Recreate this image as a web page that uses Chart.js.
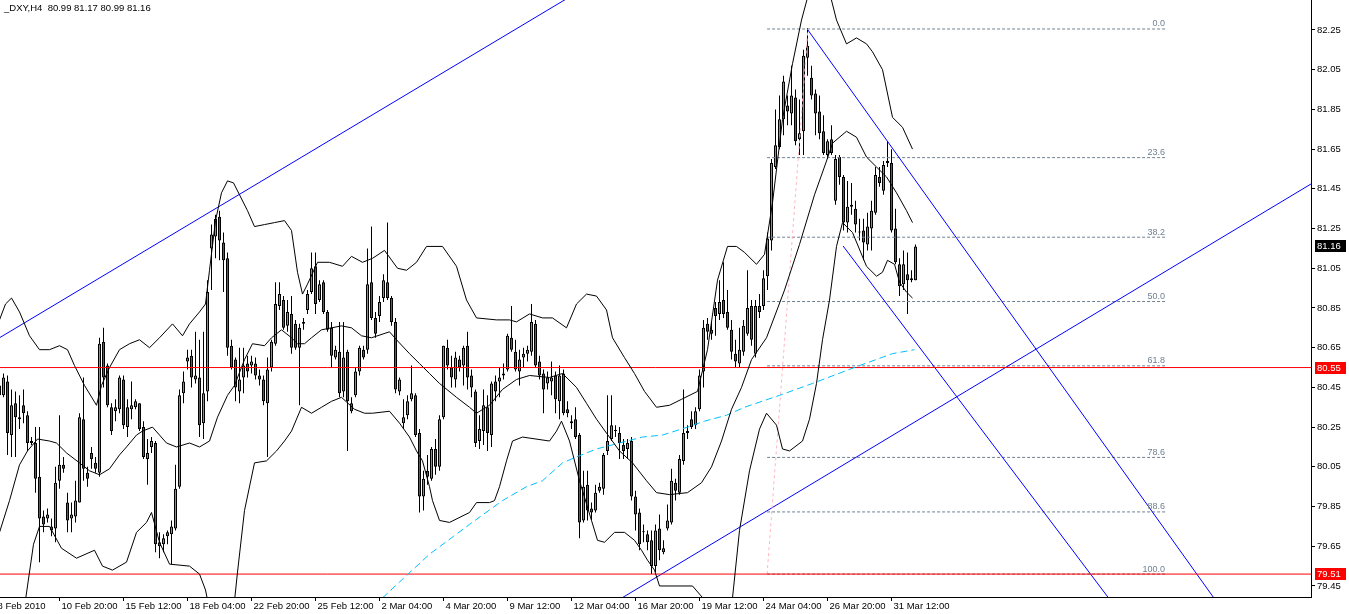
<!DOCTYPE html>
<html><head><meta charset="utf-8">
<style>html,body{margin:0;padding:0;background:#fff;overflow:hidden}canvas{display:block}</style>
<script src="https://cdn.jsdelivr.net/npm/chart.js@4.4.1/dist/chart.umd.min.js"></script>
</head><body>
<canvas id="c" width="1349" height="614"></canvas>
<script>
const symbolTitle = "_DXY,H4  80.99 81.17 80.99 81.16";

const opens = [80.41,80.41,80.48,80.21,80.37,80.29,80.36,80.31,80.18,80.17,
80.00,79.80,79.79,79.75,79.74,79.98,80.06,79.87,79.79,79.80,
79.87,80.29,80.02,80.12,80.07,80.02,80.68,80.56,80.35,80.33,
80.34,80.49,80.25,80.34,80.35,80.37,80.25,80.09,80.15,80.17,
79.67,79.66,79.70,79.71,79.74,79.95,80.42,80.58,80.61,80.49,
80.50,80.27,80.43,81.15,81.21,81.31,81.18,81.10,80.66,80.59,
80.43,80.50,80.57,80.56,80.57,80.51,80.49,80.37,80.55,80.67,
80.86,80.89,80.76,80.82,80.77,80.65,80.77,80.84,80.93,81.06,
80.89,80.98,80.83,80.75,80.60,80.63,80.43,80.63,80.37,80.41,
80.53,80.64,80.64,80.98,80.80,80.81,80.90,80.98,80.90,80.78,
80.43,80.27,80.31,80.39,80.41,80.22,79.90,80.03,79.99,80.14,
80.05,80.30,80.65,80.55,80.49,80.59,80.56,80.66,80.51,80.43,
80.18,80.23,80.35,80.21,80.48,80.48,80.51,80.54,80.70,80.63,
80.53,80.60,80.62,80.63,80.77,80.58,80.52,80.47,80.48,80.51,
80.38,80.52,80.34,80.28,80.29,80.21,79.78,79.96,79.84,79.83,
79.93,79.94,80.13,80.19,80.23,80.22,80.16,80.14,80.18,79.90,
79.82,79.72,79.71,79.68,79.55,79.74,79.62,79.74,79.77,79.97,
79.92,80.08,80.23,80.29,80.26,80.34,80.53,80.77,80.74,80.85,
80.82,80.89,80.83,80.74,80.62,80.57,80.63,80.72,80.86,80.62,
80.86,80.86,81.01,81.19,81.56,81.66,81.80,81.87,81.83,81.91,
81.70,81.74,82.11,82.01,81.93,81.84,81.74,81.62,81.70,81.39,
81.61,81.51,81.28,81.37,81.35,81.23,81.24,81.17,81.25,81.33,
81.51,81.44,81.58,81.58,81.25,81.07,80.97,81.02,80.99,80.99];

const highs = [80.49,80.52,80.51,80.44,80.43,80.41,80.44,80.33,80.20,80.25,
80.25,79.83,79.84,79.79,80.05,80.31,80.10,79.92,79.87,79.98,
80.32,80.50,80.05,80.15,80.10,80.70,80.75,80.57,80.37,80.39,
80.51,80.51,80.39,80.48,80.39,80.37,80.28,80.19,80.20,80.18,
79.72,79.71,79.73,79.78,80.06,80.44,80.53,80.64,80.64,80.73,
80.69,80.73,80.99,81.27,81.32,81.34,81.23,81.13,80.69,80.60,
80.65,80.65,80.61,80.61,80.60,80.54,80.51,80.60,80.69,80.98,
80.98,80.91,80.89,80.91,80.79,80.77,80.80,80.94,81.13,81.13,
80.99,80.99,80.84,80.78,80.66,80.78,80.78,80.64,80.40,80.55,
80.66,80.66,81.15,81.26,80.83,80.91,81.02,81.28,80.91,80.80,
80.50,80.39,80.41,80.56,80.42,80.24,80.03,80.11,80.15,80.19,
80.31,80.66,80.69,80.61,80.63,80.61,80.66,80.73,80.54,80.44,
80.31,80.44,80.41,80.48,80.51,80.55,80.57,80.72,80.86,80.69,
80.64,80.65,80.66,80.87,80.79,80.61,80.54,80.53,80.58,80.53,
80.56,80.54,80.38,80.31,80.35,80.22,80.03,80.03,79.87,79.96,
79.97,80.12,80.41,80.41,80.26,80.25,80.19,80.19,80.20,79.93,
79.84,79.76,79.73,79.73,79.76,79.81,79.68,79.86,80.04,79.99,
80.11,80.44,80.26,80.33,80.35,80.54,80.79,80.80,80.78,80.88,
80.99,81.08,80.94,80.79,80.69,80.75,80.79,81.04,80.89,80.89,
80.92,81.04,81.23,81.60,81.85,81.92,82.02,81.92,82.07,81.95,
81.90,82.15,82.26,82.07,81.95,81.92,81.82,81.70,81.77,81.62,
81.62,81.52,81.49,81.48,81.39,81.30,81.30,81.33,81.39,81.56,
81.56,81.59,81.69,81.65,81.35,81.10,81.14,81.13,81.04,81.17];

const lows = [80.39,80.40,80.11,80.10,80.10,80.24,80.27,80.13,80.16,79.92,
79.57,79.72,79.77,79.70,79.67,79.94,80.02,79.72,79.72,79.77,
79.87,79.98,79.95,80.04,80.02,80.00,80.45,80.35,80.21,80.28,
80.32,80.24,80.20,80.29,80.34,80.23,80.09,79.96,80.12,79.62,
79.59,79.62,79.66,79.56,79.73,79.94,80.37,80.54,80.45,80.47,
80.20,80.19,80.38,80.94,81.10,81.09,80.93,80.61,80.54,80.38,
80.37,80.42,80.50,80.52,80.49,80.46,80.36,80.10,80.53,80.66,
80.84,80.74,80.73,80.62,80.64,80.36,80.74,80.82,80.92,80.82,
80.88,80.82,80.73,80.55,80.59,80.40,80.40,80.13,80.32,80.40,
80.51,80.59,80.62,80.79,80.70,80.78,80.88,80.89,80.76,80.42,
80.41,80.24,80.29,80.38,80.20,79.82,79.83,79.96,79.98,80.01,
80.03,80.29,80.54,80.45,80.45,80.53,80.46,80.44,80.40,80.15,
80.14,80.16,80.13,80.15,80.38,80.40,80.49,80.53,80.63,80.53,
80.46,80.55,80.58,80.61,80.55,80.49,80.32,80.44,80.41,80.32,
80.29,80.31,80.30,80.24,80.19,79.69,79.77,79.78,79.78,79.82,
79.92,79.91,80.11,80.18,80.20,80.09,80.09,80.09,79.88,79.73,
79.63,79.67,79.63,79.51,79.52,79.58,79.61,79.73,79.76,79.88,
79.91,80.06,80.19,80.24,80.24,80.33,80.45,80.69,80.69,80.71,
80.79,80.80,80.74,80.59,80.55,80.55,80.61,80.71,80.66,80.60,
80.80,80.84,80.94,81.14,81.55,81.65,81.72,81.77,81.77,81.67,
81.62,81.62,82.02,81.90,81.72,81.70,81.62,81.60,81.62,81.37,
81.47,81.24,81.23,81.32,81.23,81.19,81.09,81.14,81.14,81.32,
81.46,81.42,81.56,81.23,81.07,80.91,80.94,80.82,80.98,80.99];

const closes = [80.46,80.50,80.22,80.36,80.30,80.30,80.32,80.17,80.17,79.99,
79.79,79.76,79.81,79.73,79.97,80.06,80.04,79.78,79.81,79.88,
80.30,80.04,79.99,80.09,80.04,80.67,80.50,80.36,80.23,80.35,
80.50,80.26,80.35,80.36,80.38,80.24,80.10,80.12,80.18,79.66,
79.65,79.69,79.72,79.75,79.94,80.41,80.48,80.60,80.50,80.51,
80.26,80.42,80.93,81.22,81.30,81.19,81.09,80.65,80.55,80.45,
80.49,80.56,80.53,80.58,80.51,80.49,80.38,80.54,80.68,80.87,
80.92,80.75,80.83,80.65,80.65,80.75,80.78,80.92,81.05,80.87,
80.97,80.83,80.74,80.61,80.64,80.42,80.60,80.38,80.33,80.53,
80.65,80.60,80.97,80.80,80.72,80.88,80.99,80.90,80.78,80.44,
80.49,80.30,80.38,80.42,80.21,79.90,79.99,80.00,80.14,80.05,
80.29,80.66,80.56,80.50,80.60,80.55,80.65,80.50,80.45,80.17,
80.24,80.36,80.22,80.47,80.43,80.50,80.52,80.71,80.64,80.54,
80.59,80.62,80.64,80.78,80.56,80.51,80.44,80.50,80.50,80.39,
80.51,80.32,80.32,80.27,80.20,79.77,79.95,79.83,79.82,79.92,
79.95,80.11,80.18,80.26,80.23,80.17,80.13,80.17,79.90,79.81,
79.66,79.72,79.67,79.55,79.73,79.63,79.64,79.78,79.98,79.93,
80.09,80.22,80.22,80.25,80.33,80.51,80.75,80.73,80.72,80.81,
80.88,80.82,80.75,80.63,80.58,80.64,80.76,80.85,80.69,80.86,
80.83,81.00,81.20,81.58,81.67,81.80,81.99,81.84,81.92,81.69,
81.73,82.12,82.17,81.92,81.83,81.73,81.63,81.69,81.63,81.60,
81.51,81.28,81.36,81.36,81.27,81.23,81.18,81.26,81.34,81.52,
81.48,81.57,81.59,81.24,81.08,80.96,81.07,80.99,81.00,81.16];

const timeTickBars = [-1,15,31,47,63,79,95,111,127,143,159,175,191,207,223];
const timeTickLabels = ["8 Feb 2010","10 Feb 20:00","15 Feb 12:00","18 Feb 04:00","22 Feb 20:00","25 Feb 12:00","2 Mar 04:00","4 Mar 20:00","9 Mar 12:00","12 Mar 04:00","16 Mar 20:00","19 Mar 12:00","24 Mar 04:00","26 Mar 20:00","31 Mar 12:00"];
const priceTicks = [79.45,79.65,79.85,80.05,80.25,80.45,80.65,80.85,81.05,81.25,81.45,81.65,81.85,82.05,82.25];

const bbUpperBars = [0,1.5,3,5,7.5,10,12.5,15,17,18.75,21.25,24.25,25.5,27.5,30,32.5,35,37.5,40,43.25,45.75,47.5,50,51.5,52.5,54,55.5,57,58.5,60,62,63.75,66.25,68.75,71.25,73,74.5,75.75,77,79.5,82.5,85.75,88,90.75,93.25,96.25,99.5,101.75,104.25,106.75,110.75,114.25,116.75,119.25,124.25,127.5,129.25,132.5,135.75,138.25,141.75,144.25,146.75,149.25,151.75,153.25,156.25,158.75,161.25,164.25,167.5,170.5,174.5,177,179.5,182,184.25,186.25,189.25,191.25,193.25,195.75,198.25,200.5,202.5,205,207.5,209.25,211.75,214.25,216.75,218.25,220.75,223.25,225.75,228.25];
const bbUpper = [80.79,80.87,80.90,80.83,80.71,80.64,80.64,80.66,80.64,80.56,80.46,80.36,80.46,80.55,80.64,80.67,80.69,80.65,80.70,80.77,80.71,80.77,80.83,80.87,81.04,81.29,81.43,81.49,81.48,81.42,81.34,81.26,81.27,81.28,81.29,81.24,81.03,80.92,80.97,81.08,81.08,81.06,81.11,81.08,81.10,81.14,81.05,81.04,81.08,81.16,81.16,81.06,80.89,80.80,80.79,80.79,80.78,80.82,80.80,80.80,80.75,80.87,80.92,80.91,80.84,80.70,80.60,80.52,80.43,80.35,80.36,80.39,80.43,80.64,80.99,81.16,81.16,81.13,81.07,81.12,81.38,81.80,82.08,82.30,82.45,82.53,82.44,82.30,82.18,82.21,82.18,82.14,82.05,81.81,81.76,81.65];

const bbMiddleBars = [0,2.5,5,7,9.5,12.5,14.25,16.75,20,22.5,25,27.5,30,31.75,34.25,35.75,38.25,40,41.75,44.25,47.5,50,52.5,54.5,57,58.75,61.25,63.25,66.25,68,70.5,73,74.5,76.25,78,80.5,83,85.5,88,90.5,93,97.5,99.25,102.5,105,107.5,110,114.25,117.5,119.25,122.5,125.75,129.25,132.5,137.5,140.75,144.25,146.75,149.25,151.75,155,158.25,161.75,164.25,167.5,172,175.5,178,180.5,183,185.5,188,191.75,196.25,200,203.75,206.75,208.25,211.75,214.25,216.75,219.25,221.75,224.25,226.75,228.25];
const bbMiddle = [79.72,79.88,80.06,80.13,80.19,80.18,80.17,80.12,80.07,80.03,80.01,80.04,80.11,80.15,80.21,80.23,80.25,80.21,80.17,80.15,80.17,80.15,80.18,80.30,80.41,80.46,80.59,80.67,80.66,80.70,80.74,80.70,80.67,80.67,80.70,80.74,80.75,80.76,80.75,80.71,80.70,80.73,80.69,80.62,80.57,80.52,80.47,80.40,80.35,80.32,80.36,80.44,80.49,80.51,80.50,80.52,80.45,80.37,80.29,80.22,80.13,80.07,79.98,79.92,79.91,79.92,79.97,80.05,80.18,80.34,80.45,80.59,80.70,80.94,81.17,81.42,81.59,81.68,81.74,81.71,81.61,81.56,81.51,81.43,81.34,81.28];

const bbLowerBars = [6.5,8.5,10,12.5,15.5,19.25,23.75,25.75,28.25,31.75,34.25,36.75,38,40,42.5,47.5,50,51.5,53,55.5,58,59.5,61.25,63.75,66.75,69.25,71.25,73,75.5,78,80.5,83,85.5,88.75,91.25,93.25,97.5,100,102.5,104.25,105.75,107.5,108.25,110,112.5,117.5,119.25,122.5,123.75,125,126.75,128.25,130.75,137.5,139.25,140.5,142.5,145,148,149.5,151.25,153.75,156.25,158.75,160.5,162,163.75,165,173.25,176.25,178.75,181.75,183.25,185,187.5,190,191.75,194.25,195.75,197.5,200.75,202.5,204.25,205.75,207.5,209.25,210.75,213.25,216.75,219.25,220.75,222,223.75,225,226.75,228.25];
const bbLower = [79.38,79.66,79.75,79.75,79.64,79.59,79.63,79.55,79.53,79.57,79.72,79.77,79.82,79.67,79.56,79.55,79.51,79.43,79.28,79.08,79.23,79.52,79.83,80.07,80.08,80.13,80.18,80.23,80.35,80.32,80.35,80.38,80.40,80.34,80.32,80.32,80.33,80.27,80.20,80.13,80.08,79.95,79.88,79.78,79.77,79.82,79.87,79.87,79.88,79.95,80.08,80.18,80.20,80.18,80.23,80.28,80.18,79.98,79.78,79.68,79.67,79.72,79.72,79.68,79.63,79.58,79.53,79.45,79.45,79.38,79.25,79.25,79.39,79.73,80.03,80.24,80.32,80.26,80.14,80.13,80.18,80.29,80.47,80.69,80.89,81.16,81.28,81.23,81.06,81.01,81.03,81.09,81.07,80.98,80.93,80.90];

const maBars = [95.75,100,103.75,107.5,113.5,117.5,120.25,125.75,131.75,135.75,140.75,144.25,149.25,155,160.75,165.75,172,176.25,181.75,186.25,195,203.25,215,223.25,228.75];
const maValues = [79.39,79.47,79.54,79.61,79.70,79.76,79.80,79.88,79.95,79.98,80.07,80.10,80.14,80.17,80.20,80.21,80.25,80.28,80.31,80.35,80.41,80.47,80.56,80.62,80.64];

const trendA = [[0,80.70],[142,82.41]];
const trendB = [[150,79.322],[328,81.476]];
const trendC = [[202.1,82.25],[305,79.35]];
const trendD = [[210.9,81.162],[278,79.37]];

const fibLowBar = 191.9, fibHighBar = 202.1, fibEndBar = 291.4;
const fibLow = 79.51, fibHigh = 82.255;
const fibPercents = [0,23.6,38.2,50,61.8,78.6,88.6,100];
const fibLabels = ["0.0","23.6","38.2","50.0","61.8","78.6","88.6","100.0"];
const hLinePrices = [80.55, 79.51];
const priceMarks = [{v:81.16, bg:'#000000'}, {v:80.55, bg:'#ff0000'}, {v:79.51, bg:'#ff0000'}];

const X_MIN = 0.125, X_MAX = 327.875;
const FONT = "'Liberation Sans', Arial, sans-serif";
const UP = '#32cd32', DOWN = '#e8201e';

const toXY = (bars, vals) => bars.map((b, i) => ({x: b, y: vals[i]}));
const lineDs = (data, color, extra) => Object.assign({type:'line', data, borderColor: color, borderWidth: 1, pointRadius: 0, fill: false, tension: 0, order: 0, spanGaps: false}, extra || {});

const datasets = [];
datasets.push({type:'bar', data: lows.map((l, i) => ({x: i, y: [l, highs[i]]})), backgroundColor: '#000', borderWidth: 0, barThickness: 1, maxBarThickness: 1, grouped: false, inflateAmount: 0, order: 2});
datasets.push({type:'bar', data: opens.map((o, i) => ({x: i, y: [o, closes[i]]})),
  backgroundColor: opens.map((o, i) => closes[i] >= o ? UP : DOWN), borderColor: '#000', borderWidth: 1, borderSkipped: false,
  barThickness: 3, maxBarThickness: 3, grouped: false, inflateAmount: 0, minBarLength: 1, order: 1});
datasets.push(lineDs(toXY(bbUpperBars, bbUpper), '#000'));
datasets.push(lineDs(toXY(bbMiddleBars, bbMiddle), '#000'));
datasets.push(lineDs(toXY(bbLowerBars, bbLower), '#000'));
datasets.push(lineDs(toXY(maBars, maValues), '#00bfff', {borderDash: [7, 4]}));
hLinePrices.forEach(p => datasets.push(lineDs([{x: -5, y: p}, {x: 340, y: p}], '#ff0000')));
fibPercents.forEach(pc => {
  const p = fibHigh - (fibHigh - fibLow) * pc / 100;
  datasets.push(lineDs([{x: fibLowBar, y: p}, {x: fibEndBar, y: p}], '#708090', {borderDash: [3, 2], order: 0.5}));
});
datasets.push(lineDs([{x: fibLowBar, y: fibLow}, {x: fibHighBar, y: fibHigh}], '#ffb6c1', {borderDash: [3, 3]}));
[trendA, trendB, trendC, trendD].forEach(t => datasets.push(lineDs(t.map(q => ({x: q[0], y: q[1]})), '#0000ff')));

const overlay = {
  id: 'overlay',
  afterDraw(chart) {
    const {ctx} = chart; const x = chart.scales.x, y = chart.scales.y;
    ctx.save();
    ctx.font = "9.5px " + FONT; ctx.fillStyle = '#000'; ctx.textAlign = 'left'; ctx.textBaseline = 'alphabetic';
    ctx.fillText(symbolTitle, 4, 11);
    ctx.font = "9px " + FONT; ctx.fillStyle = '#708090'; ctx.textAlign = 'right';
    const xr = x.getPixelForValue(fibEndBar);
    fibPercents.forEach((pc, k) => {
      const p = fibHigh - (fibHigh - fibLow) * pc / 100;
      ctx.fillText(fibLabels[k], xr, y.getPixelForValue(p) - 2.5);
    });
    ctx.font = "9.5px " + FONT; ctx.textAlign = 'left'; ctx.textBaseline = 'middle';
    priceMarks.forEach(m => {
      const py = Math.round(y.getPixelForValue(m.v));
      ctx.fillStyle = m.bg; ctx.fillRect(y.left + 4, py - 6, 31, 12);
      ctx.fillStyle = '#fff'; ctx.fillText(m.v.toFixed(2), y.left + 6, py + 0.5);
    });
    ctx.restore();
  }
};

new Chart(document.getElementById('c'), {
  type: 'bar',
  data: {datasets},
  plugins: [overlay],
  options: {
    responsive: false, animation: false, devicePixelRatio: 1, events: [],
    layout: {padding: 0},
    plugins: {legend: {display: false}, tooltip: {enabled: false}, title: {display: false}},
    scales: {
      x: {
        type: 'linear', min: X_MIN, max: X_MAX, offset: false, bounds: 'data',
        grid: {display: true, drawOnChartArea: false, drawTicks: true, tickLength: 4, color: '#000', offset: false},
        border: {display: true, color: '#000', width: 1},
        ticks: {autoSkip: false, maxRotation: 0, minRotation: 0, align: 'start', labelOffset: 2, padding: 0, color: '#000',
          font: {family: FONT, size: 9.5},
          callback: (v) => { const k = timeTickBars.indexOf(v); return k >= 0 ? timeTickLabels[k] : ''; }},
        afterBuildTicks: (s) => { s.ticks = timeTickBars.map(v => ({value: v})); },
        afterFit: (s) => { s.height = 17; s.paddingLeft = 0; s.paddingRight = 0; s.paddingTop = 0; s.paddingBottom = 0; }
      },
      y: {
        type: 'linear', position: 'right', min: 79.3945, max: 82.401, bounds: 'data',
        grid: {display: true, drawOnChartArea: false, drawTicks: true, tickLength: 4, color: '#000'},
        border: {display: true, color: '#000', width: 1},
        ticks: {padding: 2, color: '#000', font: {family: FONT, size: 9.5}, autoSkip: false, callback: (v) => Number(v).toFixed(2)},
        afterBuildTicks: (s) => { s.ticks = priceTicks.map(v => ({value: v})); },
        afterFit: (s) => { s.width = 38; s.paddingLeft = 0; s.paddingRight = 0; s.paddingTop = 0; s.paddingBottom = 0; }
      }
    }
  }
});
</script>
</body></html>
